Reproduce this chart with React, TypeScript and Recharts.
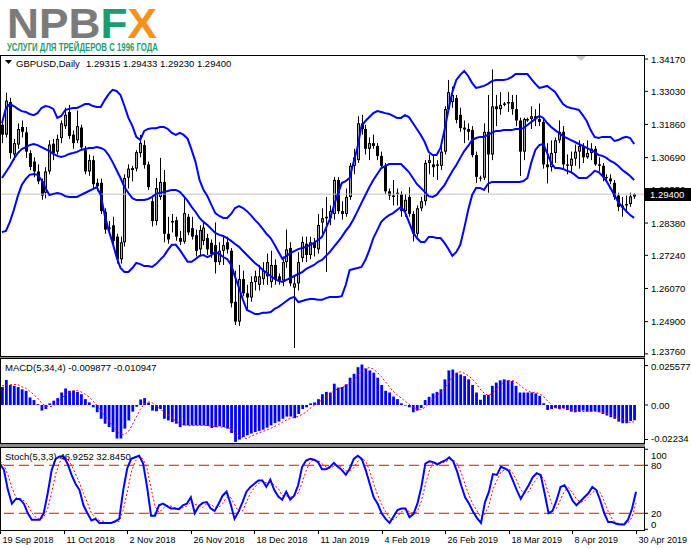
import React from 'react';
import { ComposedChart, Bar, Line, XAxis, YAxis, ReferenceLine } from 'recharts';

// GBPUSD Daily, 19 Sep 2018 .. 30 Apr 2019 (161 bars)
const opens = [1.3185,1.3150,1.3265,1.3080,1.3115,1.3177,1.3158,1.3085,1.3055,1.3020,1.2985,1.2945,1.3020,1.3118,1.3090,1.3138,1.3180,1.3230,1.3150,1.3130,1.3175,1.3095,1.3020,1.3060,1.2980,1.2980,1.2878,1.2818,1.2830,1.2790,1.2710,1.2770,1.2998,1.3025,1.3030,1.3085,1.3113,1.3045,1.2915,1.2845,1.2930,1.2983,1.2800,1.2840,1.2848,1.2785,1.2772,1.2860,1.2820,1.2795,1.2745,1.2775,1.2785,1.2768,1.2760,1.2700,1.2740,1.2770,1.2740,1.2560,1.2490,1.2640,1.2590,1.2575,1.2630,1.2620,1.2640,1.2650,1.2630,1.2690,1.2650,1.2635,1.2700,1.2750,1.2610,1.2625,1.2715,1.2765,1.2725,1.2770,1.2745,1.2840,1.2855,1.2855,1.2870,1.2990,1.2880,1.2870,1.2930,1.3040,1.3060,1.3190,1.3170,1.3100,1.3120,1.3110,1.3075,1.3040,1.2950,1.2935,1.2940,1.2940,1.2880,1.2930,1.2870,1.2800,1.2890,1.2915,1.3050,1.3045,1.3040,1.3040,1.3090,1.3240,1.3265,1.3279,1.3220,1.3175,1.3170,1.3166,1.3078,1.2995,1.2998,1.3160,1.3080,1.3250,1.3240,1.3255,1.3260,1.3265,1.3240,1.3200,1.3090,1.3200,1.3205,1.3215,1.3205,1.3195,1.3045,1.3035,1.3085,1.3130,1.3160,1.3045,1.3040,1.3065,1.3090,1.3110,1.3070,1.3085,1.3100,1.3045,1.3040,1.3000,1.2995,1.2980,1.2935,1.2893,1.2900,1.2905,1.29315];
const highs = [1.3200,1.3298,1.3280,1.3135,1.3190,1.3200,1.3177,1.3095,1.3070,1.3045,1.2995,1.3035,1.3130,1.3135,1.3150,1.3200,1.3245,1.3255,1.3165,1.3235,1.3185,1.3110,1.3080,1.3075,1.2995,1.2995,1.2890,1.2845,1.2860,1.2800,1.2790,1.3010,1.3045,1.3040,1.3095,1.3149,1.3130,1.3055,1.2935,1.2997,1.3068,1.3025,1.2860,1.2870,1.2860,1.2810,1.2926,1.2870,1.2860,1.2815,1.2830,1.2840,1.2800,1.2780,1.2840,1.2770,1.2790,1.2790,1.2750,1.2670,1.2690,1.2670,1.2620,1.2650,1.2670,1.2690,1.2700,1.2730,1.2740,1.2710,1.2660,1.2720,1.2815,1.2770,1.2650,1.2735,1.2790,1.2790,1.2790,1.2785,1.2870,1.2890,1.2930,1.2900,1.3000,1.3000,1.2915,1.2960,1.3050,1.3100,1.3215,1.3220,1.3185,1.3140,1.3150,1.3120,1.3090,1.3050,1.2960,1.2990,1.2960,1.2950,1.2940,1.2965,1.2880,1.2900,1.2930,1.3060,1.3080,1.3080,1.3060,1.3110,1.3250,1.3343,1.3320,1.3290,1.3245,1.3200,1.3190,1.3180,1.3090,1.3005,1.3190,1.3290,1.3380,1.3290,1.3300,1.3265,1.3300,1.3290,1.3290,1.3210,1.3210,1.3210,1.3250,1.3240,1.3260,1.3210,1.3120,1.3130,1.3140,1.3200,1.3180,1.3080,1.3090,1.3115,1.3130,1.3120,1.3130,1.3120,1.3110,1.3070,1.3050,1.3010,1.3010,1.2990,1.2945,1.2930,1.2935,1.2945,1.29433];
const lows = [1.3120,1.3140,1.3065,1.3060,1.3100,1.3140,1.3068,1.3025,1.3000,1.2975,1.2920,1.2925,1.3010,1.3060,1.3080,1.3120,1.3170,1.3135,1.3100,1.3120,1.3095,1.3010,1.3005,1.2960,1.2950,1.2870,1.2800,1.2795,1.2760,1.2695,1.2695,1.2755,1.2960,1.2985,1.3020,1.3070,1.3030,1.2955,1.2826,1.2830,1.2920,1.2770,1.2765,1.2805,1.2775,1.2760,1.2765,1.2795,1.2780,1.2720,1.2720,1.2760,1.2725,1.2715,1.2660,1.2690,1.2690,1.2730,1.2540,1.2478,1.2475,1.2580,1.2530,1.2560,1.2600,1.2600,1.2620,1.2620,1.2610,1.2620,1.2620,1.2615,1.2680,1.2615,1.2397,1.2600,1.2700,1.2700,1.2710,1.2720,1.2730,1.2800,1.2665,1.2830,1.2850,1.2870,1.2850,1.2860,1.2920,1.3010,1.3050,1.3150,1.3080,1.3060,1.3100,1.3060,1.3030,1.2940,1.2920,1.2900,1.2900,1.2860,1.2860,1.2860,1.2773,1.2790,1.2880,1.2900,1.3010,1.3000,1.2990,1.3025,1.3080,1.3230,1.3245,1.3190,1.3160,1.3120,1.3130,1.3070,1.2979,1.2985,1.2990,1.2945,1.3060,1.3180,1.3220,1.3250,1.3230,1.3220,1.3180,1.3004,1.3060,1.3195,1.3170,1.3180,1.3180,1.3030,1.2978,1.3020,1.3050,1.3120,1.3030,1.3010,1.3020,1.3040,1.3030,1.3050,1.3065,1.3060,1.3040,1.3020,1.2985,1.2985,1.2975,1.2920,1.2880,1.2860,1.2875,1.2895,1.29230];
const closes = [1.3150,1.3270,1.3085,1.3120,1.3170,1.3160,1.3090,1.3036,1.3020,1.2985,1.2935,1.3020,1.3115,1.3085,1.3135,1.3190,1.3220,1.3145,1.3120,1.3180,1.3105,1.3020,1.3060,1.2975,1.2968,1.2880,1.2815,1.2822,1.2775,1.2710,1.2770,1.2997,1.3030,1.3032,1.3088,1.3121,1.3043,1.2965,1.2845,1.2961,1.2983,1.2800,1.2780,1.2845,1.2790,1.2772,1.2873,1.2805,1.2790,1.2740,1.2813,1.2822,1.2745,1.2728,1.2700,1.2740,1.2760,1.2745,1.2555,1.2490,1.2640,1.2590,1.2575,1.2630,1.2650,1.2650,1.2670,1.2700,1.2690,1.2640,1.2635,1.2700,1.2745,1.2625,1.2625,1.2700,1.2771,1.2725,1.2770,1.2750,1.2831,1.2855,1.2860,1.2880,1.2990,1.2880,1.2870,1.2930,1.3040,1.3070,1.3190,1.3170,1.3100,1.3120,1.3110,1.3075,1.3040,1.2950,1.2935,1.2930,1.2945,1.2880,1.2920,1.2870,1.2800,1.2890,1.2915,1.3050,1.3060,1.3035,1.3045,1.3090,1.3240,1.3300,1.3290,1.3202,1.3173,1.3168,1.3160,1.3078,1.3001,1.2998,1.3160,1.3080,1.3250,1.3240,1.3255,1.3260,1.3265,1.3240,1.3200,1.3090,1.3205,1.3205,1.3215,1.3205,1.3195,1.3045,1.3035,1.3085,1.3130,1.3160,1.3045,1.3040,1.3065,1.3090,1.3110,1.3070,1.3085,1.3100,1.3045,1.3040,1.3000,1.2998,1.2985,1.2930,1.2895,1.2900,1.2905,1.2932,1.29400];

// Bollinger bands
const bbUpper = [1.3190,1.3244,1.3258,1.3251,1.3241,1.3233,1.3230,1.3223,1.3219,1.3226,1.3244,1.3251,1.3248,1.3241,1.3209,1.3216,1.3237,1.3241,1.3244,1.3244,1.3251,1.3258,1.3258,1.3251,1.3248,1.3248,1.3272,1.3293,1.3308,1.3304,1.3290,1.3251,1.3209,1.3181,1.3142,1.3131,1.3163,1.3170,1.3173,1.3173,1.3177,1.3177,1.3170,1.3156,1.3149,1.3156,1.3149,1.3135,1.3096,1.3053,1.2990,1.2955,1.2933,1.2902,1.2873,1.2863,1.2856,1.2856,1.2870,1.2891,1.2898,1.2891,1.2880,1.2866,1.2849,1.2835,1.2817,1.2799,1.2785,1.2761,1.2736,1.2711,1.2722,1.2732,1.2739,1.2746,1.2750,1.2754,1.2761,1.2768,1.2778,1.2789,1.2820,1.2852,1.2898,1.2941,1.2979,1.2986,1.2997,1.3053,1.3106,1.3181,1.3198,1.3212,1.3226,1.3233,1.3230,1.3226,1.3223,1.3216,1.3209,1.3209,1.3219,1.3212,1.3191,1.3170,1.3149,1.3124,1.3089,1.3078,1.3078,1.3103,1.3166,1.3237,1.3301,1.3343,1.3361,1.3375,1.3357,1.3332,1.3315,1.3318,1.3322,1.3329,1.3339,1.3343,1.3343,1.3343,1.3346,1.3353,1.3364,1.3364,1.3364,1.3364,1.3346,1.3329,1.3315,1.3318,1.3322,1.3311,1.3301,1.3279,1.3258,1.3248,1.3244,1.3241,1.3237,1.3219,1.3198,1.3166,1.3142,1.3138,1.3142,1.3142,1.3142,1.3128,1.3131,1.3138,1.3142,1.3138,1.3117];
const bbMiddle = [1.2997,1.3018,1.3039,1.3064,1.3085,1.3099,1.3106,1.3113,1.3117,1.3113,1.3106,1.3099,1.3092,1.3082,1.3075,1.3071,1.3075,1.3082,1.3085,1.3089,1.3096,1.3099,1.3103,1.3103,1.3106,1.3103,1.3096,1.3078,1.3053,1.3025,1.2997,1.2965,1.2944,1.2926,1.2919,1.2919,1.2919,1.2923,1.2930,1.2941,1.2944,1.2948,1.2951,1.2955,1.2955,1.2948,1.2933,1.2916,1.2895,1.2877,1.2856,1.2842,1.2831,1.2817,1.2803,1.2796,1.2792,1.2785,1.2775,1.2764,1.2754,1.2739,1.2725,1.2711,1.2697,1.2686,1.2672,1.2662,1.2651,1.2641,1.2634,1.2630,1.2637,1.2644,1.2651,1.2658,1.2665,1.2676,1.2683,1.2690,1.2701,1.2708,1.2722,1.2736,1.2754,1.2771,1.2789,1.2810,1.2828,1.2852,1.2880,1.2909,1.2937,1.2965,1.2990,1.3011,1.3032,1.3039,1.3046,1.3046,1.3046,1.3046,1.3032,1.3018,1.2997,1.2976,1.2962,1.2948,1.2933,1.2930,1.2937,1.2955,1.2972,1.2997,1.3022,1.3043,1.3068,1.3092,1.3110,1.3131,1.3138,1.3142,1.3142,1.3149,1.3156,1.3163,1.3163,1.3166,1.3166,1.3166,1.3170,1.3170,1.3173,1.3184,1.3195,1.3205,1.3216,1.3209,1.3191,1.3177,1.3166,1.3156,1.3145,1.3138,1.3131,1.3124,1.3117,1.3110,1.3103,1.3096,1.3089,1.3078,1.3075,1.3068,1.3057,1.3050,1.3039,1.3025,1.3015,1.3004,1.2990];
const bbLower = [1.2806,1.2810,1.2842,1.2884,1.2933,1.2972,1.2993,1.3008,1.3011,1.3008,1.2990,1.2962,1.2937,1.2941,1.2944,1.2941,1.2933,1.2930,1.2930,1.2930,1.2937,1.2944,1.2951,1.2958,1.2965,1.2937,1.2866,1.2813,1.2768,1.2718,1.2679,1.2665,1.2665,1.2679,1.2697,1.2693,1.2686,1.2686,1.2683,1.2693,1.2708,1.2722,1.2743,1.2761,1.2761,1.2743,1.2722,1.2701,1.2701,1.2711,1.2722,1.2725,1.2718,1.2725,1.2736,1.2729,1.2718,1.2711,1.2690,1.2648,1.2609,1.2567,1.2531,1.2524,1.2517,1.2517,1.2521,1.2521,1.2524,1.2535,1.2542,1.2552,1.2563,1.2573,1.2577,1.2559,1.2563,1.2567,1.2570,1.2570,1.2567,1.2567,1.2573,1.2577,1.2577,1.2577,1.2580,1.2619,1.2672,1.2676,1.2679,1.2683,1.2708,1.2743,1.2785,1.2813,1.2842,1.2856,1.2866,1.2873,1.2884,1.2895,1.2877,1.2842,1.2806,1.2785,1.2771,1.2771,1.2789,1.2789,1.2785,1.2785,1.2768,1.2746,1.2722,1.2736,1.2761,1.2820,1.2884,1.2937,1.2962,1.2962,1.2955,1.2976,1.2983,1.2983,1.2983,1.2983,1.2983,1.2983,1.2983,1.2983,1.2986,1.2997,1.3053,1.3096,1.3113,1.3117,1.3085,1.3050,1.3032,1.3032,1.3029,1.3022,1.3018,1.3008,1.2997,1.2997,1.2997,1.3008,1.3022,1.3018,1.3004,1.2986,1.2962,1.2937,1.2912,1.2895,1.2880,1.2866,1.2856];

// MACD(5,34,4)
const macdHist = [0.0117,0.0162,0.0130,0.0124,0.0117,0.0102,0.0092,0.0049,0.0032,0.0006,-0.0036,-0.0026,0.0011,0.0028,0.0045,0.0081,0.0107,0.0092,0.0092,0.0085,0.0070,0.0038,0.0017,-0.0015,-0.0047,-0.0089,-0.0121,-0.0143,-0.0175,-0.0217,-0.0217,-0.0153,-0.0100,-0.0043,-0.0011,0.0036,0.0045,0.0015,-0.0036,-0.0040,-0.0026,-0.0089,-0.0100,-0.0111,-0.0121,-0.0143,-0.0132,-0.0132,-0.0132,-0.0132,-0.0132,-0.0132,-0.0136,-0.0149,-0.0143,-0.0138,-0.0143,-0.0153,-0.0181,-0.0239,-0.0224,-0.0207,-0.0196,-0.0185,-0.0175,-0.0168,-0.0160,-0.0147,-0.0132,-0.0117,-0.0107,-0.0089,-0.0075,-0.0075,-0.0085,-0.0058,-0.0026,-0.0015,0.0011,0.0017,0.0038,0.0070,0.0085,0.0081,0.0138,0.0113,0.0117,0.0134,0.0177,0.0202,0.0245,0.0262,0.0236,0.0224,0.0209,0.0177,0.0130,0.0092,0.0081,0.0055,0.0038,0.0011,-0.0004,-0.0015,-0.0047,-0.0036,-0.0019,0.0032,0.0053,0.0075,0.0085,0.0102,0.0166,0.0224,0.0230,0.0209,0.0198,0.0187,0.0166,0.0130,0.0081,0.0034,0.0066,0.0066,0.0124,0.0145,0.0160,0.0166,0.0160,0.0155,0.0124,0.0081,0.0081,0.0081,0.0081,0.0075,0.0060,0.0011,-0.0032,-0.0026,-0.0019,-0.0026,-0.0019,-0.0032,-0.0043,-0.0047,-0.0043,-0.0036,-0.0043,-0.0043,-0.0040,-0.0047,-0.0058,-0.0068,-0.0079,-0.0089,-0.0108,-0.0118,-0.0118,-0.0103,-0.009877];
const macdSignal = [0.0125,0.0128,0.0130,0.0133,0.0133,0.0118,0.0109,0.0090,0.0069,0.0045,0.0013,-0.0006,-0.0011,-0.0006,0.0015,0.0041,0.0065,0.0081,0.0093,0.0094,0.0085,0.0071,0.0053,0.0028,-0.0002,-0.0034,-0.0068,-0.0100,-0.0132,-0.0164,-0.0188,-0.0191,-0.0172,-0.0128,-0.0077,-0.0030,0.0007,0.0021,0.0015,-0.0004,-0.0022,-0.0048,-0.0064,-0.0082,-0.0105,-0.0119,-0.0127,-0.0132,-0.0135,-0.0132,-0.0132,-0.0132,-0.0133,-0.0137,-0.0140,-0.0142,-0.0143,-0.0144,-0.0154,-0.0179,-0.0199,-0.0213,-0.0216,-0.0203,-0.0191,-0.0181,-0.0172,-0.0162,-0.0152,-0.0139,-0.0126,-0.0111,-0.0097,-0.0086,-0.0081,-0.0073,-0.0061,-0.0046,-0.0022,-0.0003,0.0013,0.0034,0.0052,0.0068,0.0093,0.0104,0.0112,0.0125,0.0135,0.0157,0.0189,0.0221,0.0236,0.0242,0.0233,0.0211,0.0185,0.0152,0.0120,0.0089,0.0066,0.0046,0.0025,0.0007,-0.0014,-0.0025,-0.0029,-0.0017,0.0007,0.0035,0.0061,0.0079,0.0107,0.0144,0.0181,0.0207,0.0215,0.0206,0.0190,0.0170,0.0141,0.0103,0.0078,0.0062,0.0073,0.0100,0.0124,0.0149,0.0158,0.0160,0.0151,0.0130,0.0110,0.0092,0.0081,0.0080,0.0074,0.0057,0.0029,0.0003,-0.0017,-0.0026,-0.0023,-0.0024,-0.0030,-0.0035,-0.0041,-0.0042,-0.0042,-0.0041,-0.0041,-0.0043,-0.0047,-0.0053,-0.0063,-0.0074,-0.0084,-0.0094,-0.0108,-0.0112,-0.010947];

// Stochastic(5,3,3)
const stochMain = [82,74,49,32,38,38,32,20,12,12,12,20,45,74,88,91,91,82,68,57,49,30,20,11,13,8,8,8,8,10,13,49,76,88,90,92,82,53,17,17,30,32,29,26,26,25,30,32,40,20,29,33,34,26,23,32,42,47,32,13,22,34,47,53,57,61,61,53,62,49,41,37,47,37,42,55,78,86,88,87,84,75,75,78,83,78,74,68,76,88,92,88,74,57,40,32,20,13,8,16,24,26,26,15,19,32,53,82,85,84,81,84,86,90,85,72,55,40,32,22,14,8,34,47,69,68,78,76,73,61,49,38,47,55,65,70,68,45,20,23,36,53,55,47,36,30,35,40,45,53,49,36,20,9,9,7,6,6,12,26,46.9252];
const stochSignal = [85,80,68,52,40,36,36,30,21,15,12,15,26,46,69,84,90,88,80,69,58,45,33,20,15,11,10,8,8,9,10,24,46,71,85,90,88,76,51,29,21,26,30,29,27,26,27,29,34,31,30,27,32,31,28,27,32,40,40,31,22,23,34,45,52,57,60,58,59,55,51,42,42,40,42,45,58,73,84,87,86,82,78,76,79,80,78,73,73,77,85,89,85,73,57,43,31,22,14,12,16,22,25,22,20,22,35,56,73,84,83,83,84,87,87,82,71,56,42,31,23,15,19,30,50,61,72,74,76,70,61,49,45,47,56,63,68,61,44,29,26,37,48,52,46,38,34,35,40,46,49,46,35,22,13,8,7,6,8,15,32.845];

const dateTicks = [0, 16, 32, 48, 64, 80, 96, 112, 128, 144, 160];
const dateLabels = ['19 Sep 2018', '11 Oct 2018', '2 Nov 2018', '26 Nov 2018', '18 Dec 2018', '11 Jan 2019', '4 Feb 2019', '26 Feb 2019', '18 Mar 2019', '8 Apr 2019', '30 Apr 2019'];

const priceTicks = [1.3417, 1.3303, 1.3186, 1.3069, 1.2955, 1.2838, 1.2724, 1.2607, 1.249, 1.2376];
const macdTicks = [0.025577, 0, -0.02234];
const macdTickLabels = ['0.025577', '0.00', '-0.02234'];
const stochTicks = [100, 80, 20, 0];

const lastPrice = 1.294;
const FONT = '"Liberation Sans", Arial, sans-serif';

const rows = Array.from({ length: opens.length + 2 }, (_, i) =>
  i < opens.length
    ? {
        i,
        o: opens[i], h: highs[i], l: lows[i], c: closes[i],
        range: [lows[i], highs[i]],
        up: bbUpper[i], mid: bbMiddle[i], lo: bbLower[i],
        hist: macdHist[i], sig: macdSignal[i],
        k: stochMain[i], d: stochSignal[i],
      }
    : { i }
);

const Candle = (props: any) => {
  const { x, width, y, height, payload } = props;
  if (!payload || payload.o == null) return null;
  const { o, h, l, c } = payload;
  const top = Math.min(y, y + height);
  const hh = Math.abs(height);
  const k = h - l > 0 ? hh / (h - l) : 0;
  const yO = top + (h - o) * k;
  const yC = top + (h - c) * k;
  const bTop = Math.min(yO, yC);
  const bH = Math.max(1, Math.abs(yO - yC));
  const cx = Math.round(x + width / 2);
  const bull = c >= o;
  return (
    <g>
      <line x1={cx + 0.5} x2={cx + 0.5} y1={top} y2={top + hh} stroke="#000" strokeWidth={1} />
      {bull ? (
        <g>
          <rect x={cx - 1} y={bTop} width={3} height={bH} fill="#000" />
          {bH > 2 && <rect x={cx} y={bTop + 1} width={1} height={bH - 2} fill="#a8a8a8" />}
        </g>
      ) : (
        <rect x={cx - 1} y={bTop} width={3} height={bH} fill="#000" />
      )}
    </g>
  );
};

const PriceTick = (props: any) => {
  const { y, payload, index } = props;
  const shift = index === priceTicks.length - 1 ? -2 : 0;
  return (
    <g>
      <line x1={644} x2={648} y1={y} y2={y} stroke="#000" />
      <text x={651} y={y + 3.5 + shift} fontSize={9.5} fontFamily={FONT} fill="#000">
        {Number(payload.value).toFixed(5)}
      </text>
    </g>
  );
};

const MacdTick = (props: any) => {
  const { y, payload, index } = props;
  const shift = index === 0 ? 1 : index === 2 ? -1 : 0;
  return (
    <g>
      <line x1={644} x2={648} y1={y} y2={y} stroke="#000" />
      <text x={651} y={y + 3.5 + shift} fontSize={9.5} fontFamily={FONT} fill="#000">
        {macdTickLabels[macdTicks.indexOf(payload.value)]}
      </text>
    </g>
  );
};

const StochTick = (props: any) => {
  const { y, payload } = props;
  const v = payload.value;
  const shift = v === 100 ? 6 : v === 0 ? -5 : 0;
  return (
    <g>
      <line x1={644} x2={648} y1={y} y2={y} stroke="#000" />
      <text x={651} y={y + 3.5 + shift} fontSize={9.5} fontFamily={FONT} fill="#000">
        {String(v)}
      </text>
    </g>
  );
};

const DateTick = (props: any) => {
  const { x, payload } = props;
  const idx = dateTicks.indexOf(payload.value);
  const px = Math.round(x) + 0.5;
  return (
    <g>
      <line x1={px} x2={px} y1={84} y2={88} stroke="#000" />
      <text x={px + 2} y={97} fontSize={9} fontFamily={FONT} fill="#000">
        {dateLabels[idx]}
      </text>
    </g>
  );
};

const W = 691;

export default function App() {
  return (
    <div style={{ position: 'absolute', left: 0, top: 0, width: W, height: 549, background: '#fff', overflow: 'hidden' }}>
      {/* logo */}
      <svg width={W} height={55} style={{ position: 'absolute', left: 0, top: 0 }}>
        <text x={7} y={38} fontSize={42} fontWeight="bold" fontFamily={FONT} textLength={150} lengthAdjust="spacingAndGlyphs">
          <tspan fill="#7b7b7b">NPB</tspan>
          <tspan fill="#1c9c6f">F</tspan>
          <tspan fill="#f5921e">X</tspan>
        </text>
        <text x={7} y={51} fontSize={10} fontWeight="bold" fontFamily={FONT} fill="#1c9c6f" textLength={151} lengthAdjust="spacingAndGlyphs">
          УСЛУГИ ДЛЯ ТРЕЙДЕРОВ С 1996 ГОДА
        </text>
      </svg>

      {/* main price panel */}
      <div style={{ position: 'absolute', left: 0, top: 0 }}>
        <ComposedChart width={W} height={357} data={rows} margin={{ top: 56, right: 0, bottom: 1, left: 0 }} barCategoryGap={0}>
          <XAxis dataKey="i" type="category" hide />
          <YAxis orientation="right" width={47} domain={[1.23686, 1.34276]} allowDataOverflow ticks={priceTicks} interval={0} axisLine={false} tickLine={false} tick={<PriceTick />} />
          <ReferenceLine y={lastPrice} stroke="#c0c0c0" strokeWidth={1} />
          <Bar dataKey="range" isAnimationActive={false} shape={(p: any) => <Candle {...p} />} />
          <Line dataKey="up" stroke="#0000ff" strokeWidth={2} dot={false} activeDot={false} isAnimationActive={false} />
          <Line dataKey="mid" stroke="#0000ff" strokeWidth={2} dot={false} activeDot={false} isAnimationActive={false} />
          <Line dataKey="lo" stroke="#0000ff" strokeWidth={2} dot={false} activeDot={false} isAnimationActive={false} />
        </ComposedChart>
      </div>

      {/* MACD panel */}
      <div style={{ position: 'absolute', left: 0, top: 357 }}>
        <ComposedChart width={W} height={87} data={rows} margin={{ top: 2, right: 0, bottom: 1, left: 0 }} barCategoryGap={0}>
          <XAxis dataKey="i" type="category" hide />
          <YAxis orientation="right" width={47} domain={[-0.0246, 0.0298]} allowDataOverflow ticks={macdTicks} interval={0} axisLine={false} tickLine={false} tick={<MacdTick />} />
          <Bar dataKey="hist" fill="#0000ff" barSize={2.8} isAnimationActive={false} />
          <Line dataKey="sig" stroke="#ff0000" strokeWidth={1} strokeDasharray="2 2" dot={false} activeDot={false} isAnimationActive={false} />
        </ComposedChart>
      </div>

      {/* Stochastic panel + time axis */}
      <div style={{ position: 'absolute', left: 0, top: 446 }}>
        <ComposedChart width={W} height={103} data={rows} margin={{ top: 2, right: 0, bottom: 0, left: 0 }}>
          <XAxis dataKey="i" type="category" height={19} ticks={dateTicks} interval={0} axisLine={false} tickLine={false} tick={<DateTick />} />
          <YAxis orientation="right" width={47} domain={[-0.9, 101.6]} allowDataOverflow ticks={stochTicks} interval={0} axisLine={false} tickLine={false} tick={<StochTick />} />
          <ReferenceLine y={80} stroke="#ff0000" strokeDasharray="10 5" />
          <ReferenceLine y={20} stroke="#ff0000" strokeDasharray="10 5" />
          <Line dataKey="d" stroke="#ff0000" strokeWidth={1} strokeDasharray="2 2" dot={false} activeDot={false} isAnimationActive={false} />
          <Line dataKey="k" stroke="#0000ff" strokeWidth={2} dot={false} activeDot={false} isAnimationActive={false} />
        </ComposedChart>
      </div>

      {/* frames, separators, labels */}
      <svg width={W} height={549} style={{ position: 'absolute', left: 0, top: 0, pointerEvents: 'none' }}>
        <rect x={0} y={357} width={645} height={1.5} fill="#8a8a8a" />
        <rect x={0} y={444} width={645} height={3} fill="#8a8a8a" />
        <rect x={0.5} y={55.5} width={644} height={301} fill="none" stroke="#000" />
        <rect x={0.5} y={358.5} width={644} height={85} fill="none" stroke="#000" />
        <rect x={0.5} y={447.5} width={644} height={83} fill="none" stroke="#000" />
        <polygon points="576,56 586,56 581,61" fill="#c8c8c8" />

        <polygon points="5,60 12,60 8.5,64" fill="#000" />
        <text x={16} y={67} fontSize={9.5} fontFamily={FONT} fill="#000">GBPUSD,Daily</text>
        <text x={86} y={67} fontSize={9.5} fontFamily={FONT} fill="#000">1.29315 1.29433 1.29230 1.29400</text>

        <text x={5} y={371} fontSize={9.5} fontFamily={FONT} fill="#000">MACD(5,34,4) -0.009877 -0.010947</text>
        <text x={5} y={460} fontSize={9.5} fontFamily={FONT} fill="#000">Stoch(5,3,3) 46.9252 32.8450</text>

        <rect x={645} y={188} width={46} height={13} fill="#000" />
        <text x={650} y={198} fontSize={9.5} fontFamily={FONT} fill="#fff">1.29400</text>
      </svg>
    </div>
  );
}
